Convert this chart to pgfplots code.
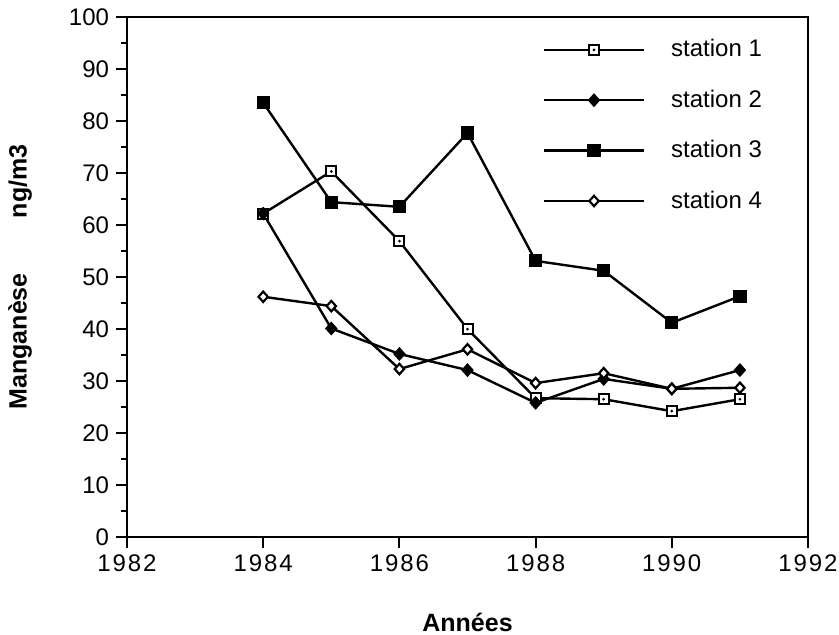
\documentclass[border=0pt]{standalone}
\usepackage{fontspec}
\setmainfont{Liberation Sans}
\newfontfamily\tickfont[LetterSpace=8]{Liberation Sans}
\usepackage{pgfplots}
\pgfplotsset{compat=1.18}
\pgfdeclareplotmark{sqdot}{%
  \pgfpathrectangle{\pgfpoint{-\pgfplotmarksize}{-\pgfplotmarksize}}{\pgfpoint{2\pgfplotmarksize}{2\pgfplotmarksize}}%
  \pgfusepathqfillstroke
  \pgfscope
  \pgfpathcircle{\pgfpointorigin}{0.3\pgfplotmarksize}%
  \pgfsetfillcolor{black}%
  \pgfusepathqfill
  \endpgfscope
}
\pgfdeclareplotmark{rdiamond}{%
  \pgfpathmoveto{\pgfqpoint{0pt}{\pgfplotmarksize}}%
  \pgfpathlineto{\pgfqpoint{.9\pgfplotmarksize}{0pt}}%
  \pgfpathlineto{\pgfqpoint{0pt}{-\pgfplotmarksize}}%
  \pgfpathlineto{\pgfqpoint{-.9\pgfplotmarksize}{0pt}}%
  \pgfpathclose
  \pgfusepathqfillstroke
}
\begin{document}
\begin{tikzpicture}
\useasboundingbox (-63.5pt,-48.5pt) rectangle (356pt,268.5pt);
\begin{axis}[
  at={(0pt,0pt)}, anchor=south west,
  scale only axis, width=340.5pt, height=260pt,
  xmin=1982, xmax=1992, ymin=0, ymax=100,
  xtick={1982,1984,...,1992}, ytick={0,10,...,100},
  minor x tick num=1, minor y tick num=1,
  xtick pos=bottom, ytick pos=left,
  tick align=outside,
  major tick length=5.5pt, minor tick length=3pt,
  every tick/.style={black, line width=1pt},
  axis line style={line width=1.1pt},
  xticklabel style={font=\tickfont\fontsize{12}{14}\selectfont, /pgf/number format/1000 sep={}},
  yticklabel style={font=\fontsize{12}{14}\selectfont},
  /pgf/number format/assume math mode=true,
  /pgf/number format/1000 sep={},
  every axis x label/.style={at={(axis description cs:0.5,0)}, anchor=center, yshift=-42.5pt, font=\bfseries\fontsize{12.5}{14}\selectfont},
  every axis y label/.style={at={(axis description cs:0,0.5)}, rotate=90, anchor=center, yshift=53.5pt, font=\bfseries\fontsize{12.5}{14}\selectfont},
  xlabel={Années},
  ylabel={Manganèse\hspace{2.2em}ng/m3},
  legend style={draw=none, fill=none, at={(axis description cs:0.61,0.965)}, anchor=north west,
    font=\fontsize{12}{14}\selectfont, row sep=11pt, inner sep=0pt,
    /tikz/every odd column/.append style={column sep=11pt}},
  legend cell align=left,
  legend image code/.code={\draw[line width=1.2pt, mark repeat=2,mark phase=2] plot coordinates {(0pt,0pt) (25pt,0pt) (50pt,0pt)};},
]
\addplot[black, line width=1.2pt, mark=sqdot, mark size=2.5pt, mark options={fill=white, line width=1pt}] coordinates {
 (1984,62.2) (1985,70.3) (1986,56.9) (1987,40.0) (1988,26.7) (1989,26.5) (1990,24.2) (1991,26.5)};
\addlegendentry{station 1}
\addplot[black, line width=1.2pt, mark=rdiamond, mark size=2.9pt, mark options={fill=black, line width=0.8pt}] coordinates {
 (1984,62.2) (1985,40.1) (1986,35.2) (1987,32.1) (1988,25.8) (1989,30.4) (1990,28.5) (1991,32.1)};
\addlegendentry{station 2}
\addplot[black, line width=1.2pt, mark=square*, mark size=2.9pt, mark options={fill=black, line width=0.8pt}] coordinates {
 (1984,83.5) (1985,64.4) (1986,63.5) (1987,77.7) (1988,53.1) (1989,51.2) (1990,41.2) (1991,46.3)};
\addlegendentry{station 3}
\addplot[black, line width=1.2pt, mark=rdiamond, mark size=2.6pt, mark options={fill=white, line width=1.1pt}] coordinates {
 (1984,46.2) (1985,44.4) (1986,32.3) (1987,36.1) (1988,29.6) (1989,31.5) (1990,28.5) (1991,28.7)};
\addlegendentry{station 4}
\end{axis}
\end{tikzpicture}
\end{document}
